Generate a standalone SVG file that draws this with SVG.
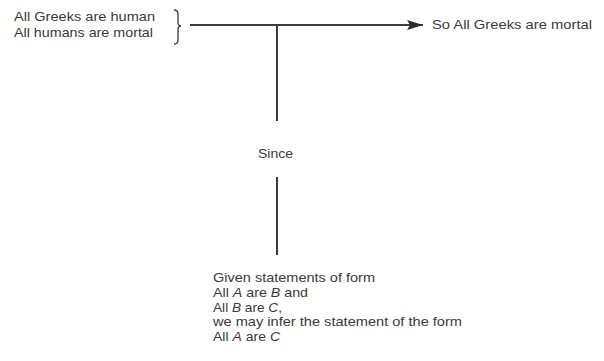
<svg xmlns="http://www.w3.org/2000/svg" width="604" height="361" viewBox="0 0 604 361">
<style>
text{font-family:"Liberation Sans",Arial,sans-serif;font-size:13px;fill:#3a3a3a}
.ln{stroke:#3c3c3c;stroke-width:2;fill:none}
.i{font-style:italic}
</style>
<defs>
<marker id="ah2" viewBox="0 0 16 10" refX="16" refY="5" markerWidth="16" markerHeight="10" orient="auto" markerUnits="userSpaceOnUse">
<path d="M0,0 L16,5 L0,10 L3,5 Z" fill="#2a2a2a"/>
</marker>
</defs>
<g id="premises">
<text x="14" y="21" textLength="141" lengthAdjust="spacingAndGlyphs">All Greeks are human</text>
<text x="14" y="37" textLength="139" lengthAdjust="spacingAndGlyphs">All humans are mortal</text>
<path class="ln" style="stroke-width:1.3" d="M174,10 Q178,10 178,14 L178,22 Q178,26 181,26 Q178,26 178,30 L178,40 Q178,44 174,44"/>
</g>
<g id="conclusion">
<text x="432" y="29" textLength="160" lengthAdjust="spacingAndGlyphs">So All Greeks are mortal</text>
</g>
<g id="since">
<text x="258" y="158" textLength="35" lengthAdjust="spacingAndGlyphs">Since</text>
</g>
<g id="rule">
<text x="213" y="282" textLength="162" lengthAdjust="spacingAndGlyphs">Given statements of form</text>
<text x="213" y="297" textLength="95" lengthAdjust="spacingAndGlyphs">All <tspan class="i">A</tspan> are <tspan class="i">B</tspan> and</text>
<text x="213" y="312" textLength="69" lengthAdjust="spacingAndGlyphs">All <tspan class="i">B</tspan> are <tspan class="i">C</tspan>,</text>
<text x="213" y="326" textLength="249" lengthAdjust="spacingAndGlyphs">we may infer the statement of the form</text>
<text x="213" y="341" textLength="67" lengthAdjust="spacingAndGlyphs">All <tspan class="i">A</tspan> are <tspan class="i">C</tspan></text>
</g>
<g id="connectors">
<line class="ln" x1="190" y1="25" x2="423" y2="25" marker-end="url(#ah2)"/>
<line class="ln" x1="277" y1="25" x2="277" y2="121"/>
<line class="ln" x1="277" y1="177" x2="277" y2="255"/>
</g>
</svg>
